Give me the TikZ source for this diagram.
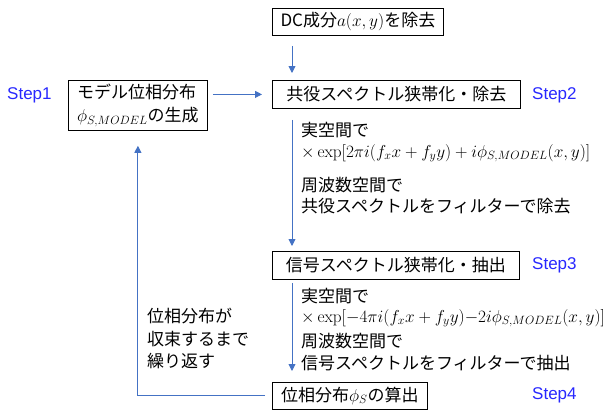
\documentclass[tikz,border=0pt]{standalone}
\usepackage[no-math]{fontspec}
\setmainfont{Noto Sans CJK JP}
\newfontfamily\stepfont{Liberation Sans}
\usetikzlibrary{arrows.meta,calc}
\definecolor{arrowblue}{HTML}{4472C4}
\definecolor{stepblue}{RGB}{40,40,255}
\begin{document}
\begin{tikzpicture}[x=1pt,y=-1pt,
  every node/.style={font=\fontsize{17}{20}\selectfont},
  box/.style={draw=black,line width=0.8pt,anchor=north west,inner sep=0pt},
  txt/.style={anchor=west,inner sep=0pt},
  steplabel/.style={anchor=west,inner sep=0pt,text=stepblue,font=\stepfont\fontsize{17}{20}\selectfont},
  arr/.style={draw=arrowblue,line width=0.9pt,-{Triangle[length=7pt,width=7pt]}}]
\useasboundingbox (0,0) rectangle (614,410);

% boxes
\node[box,minimum width=171pt,minimum height=27pt] (dc) at (272,8) {DC成分$a(x,y)$を除去};
\node[box,minimum width=248pt,minimum height=28pt] (c2) at (272,80) {共役スペクトル狭帯化・除去};
\node[box,minimum width=139pt,minimum height=50pt,align=left,font=\fontsize{17}{23}\selectfont] (model) at (68,80) {モデル位相分布\\$\phi_{S,MODEL}$の生成};
\node[box,minimum width=247pt,minimum height=28pt] (s3) at (272,251) {信号スペクトル狭帯化・抽出};
\node[box,minimum width=155pt,minimum height=27pt] (s4) at (272,382) {位相分布$\phi_S$の算出};

% step labels
\node[steplabel] (st1) at (7,95) {Step1};
\node[steplabel] (st2) at (532,95) {Step2};
\node[steplabel] (st3) at (532,265) {Step3};
\node[steplabel] (st4) at (532,395) {Step4};

% text block 1
\node[txt] (a1) at (301,130) {実空間で};
\node[txt] (a2) at (301,153) {$\times\exp\bigl[2\pi i\bigl(f_x x+f_y y\bigr)+i\phi_{S,MODEL}(x,y)\bigr]$};
\node[txt] (a3) at (301,185) {周波数空間で};
\node[txt] (a4) at (301,206) {共役スペクトルをフィルターで除去};

% text block 2
\node[txt] (b1) at (301,296) {実空間で};
\node[txt] (b2) at (301,318) {$\times\exp\bigl[{-4}\pi i\bigl(f_x x+f_y y\bigr){-}2i\phi_{S,MODEL}(x,y)\bigr]$};
\node[txt] (b3) at (301,341) {周波数空間で};
\node[txt] (b4) at (301,363) {信号スペクトルをフィルターで抽出};

% feedback text
\node[txt] (f1) at (147,316) {位相分布が};
\node[txt] (f2) at (147,339) {収束するまで};
\node[txt] (f3) at (147,361) {繰り返す};

% connectors
\draw[arr] ($(dc.south west)+(20,10)$) -- ($(c2.north west)+(20,-7)$);
\draw[arr] ($(model.east |- c2.west)+(5,0)$) -- ($(c2.west)+(-10,0)$);
\draw[arr] ($(c2.south west)+(20,11)$) -- ($(s3.north west)+(20,-5)$);
\draw[arr] ($(s3.south west)+(20,3)$) -- ($(s4.north west)+(20,-11)$);
\draw[arr] ($(s4.west)+(-7,0)$) -| ($(model.south)+(0,15)$);
\end{tikzpicture}
\end{document}
